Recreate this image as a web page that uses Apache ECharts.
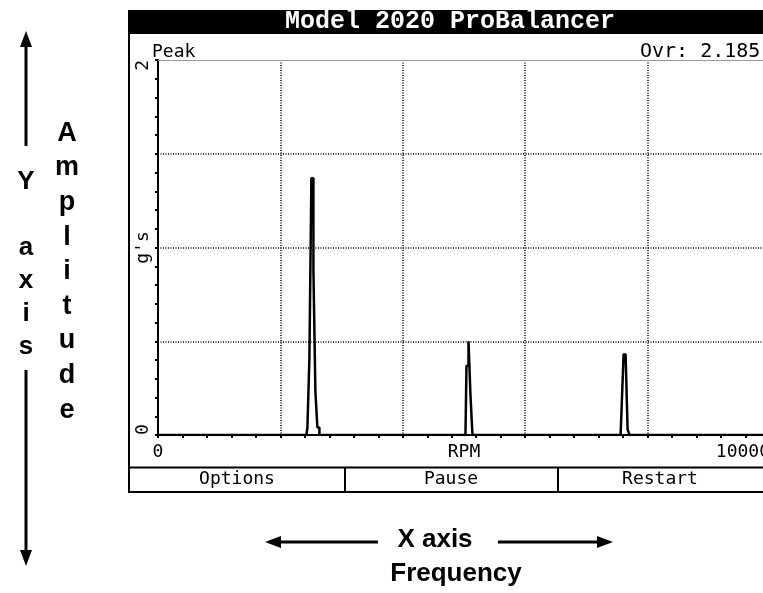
<!DOCTYPE html>
<html>
<head>
<meta charset="utf-8">
<script src="https://cdn.jsdelivr.net/npm/echarts@6/dist/echarts.min.js"></script>
<style>
  html, body { margin: 0; padding: 0; background: #fff; }
  #chart { width: 763px; height: 593px; }
</style>
</head>
<body>
<div id="chart"></div>
<script>
// spectrum samples (RPM, g's)
const rpm = [0, 2425, 2458, 2490, 2523, 2556, 2588, 2621, 2654,
  5024, 5057, 5090, 5122, 5155,
  7559, 7591, 7624, 7657, 7689, 7722, 10000];
const amplitude = [0, 0, 0.04, 0.41, 1.37, 0.88, 0.23, 0.04, 0,
  0, 0.37, 0.50, 0.21, 0,
  0, 0.14, 0.43, 0.42, 0.03, 0, 0];
const xLabels = { 0: "0", 10000: "10000" };
const yLabels = { 0: "0", 2: "2" };
const buttons = ["Options", "Pause", "Restart"];
const title = "Model 2020 ProBalancer";
const mode = "Peak";
const overall = "Ovr: 2.185";

const mono = "DejaVu Sans Mono";
const sans = "Liberation Sans";

const chart = echarts.init(document.getElementById("chart"), null, { renderer: "canvas" });

const arrowHead = (x, y, dir) => ({
  type: "polygon",
  shape: {
    points: dir === "up" ? [[x, y], [x - 6, y + 16], [x + 6, y + 16]]
      : dir === "down" ? [[x, y], [x - 6, y - 16], [x + 6, y - 16]]
      : dir === "left" ? [[x, y], [x + 16, y - 6], [x + 16, y + 6]]
      : [[x, y], [x - 16, y - 6], [x - 16, y + 6]]
  },
  style: { fill: "#000" }
});

chart.setOption({
  backgroundColor: "#fff",
  animation: false,
  grid: { left: 158, right: -7, top: 60, bottom: 158, outerBoundsMode: "none" },
  xAxis: [
    {
      type: "value",
      min: 0,
      max: 10000,
      interval: 2000,
      name: "RPM",
      nameLocation: "middle",
      nameGap: 8,
      nameMoveOverlap: false,
      nameTextStyle: { fontFamily: mono, fontSize: 18, color: "#000", verticalAlign: "top" },
      axisLine: { lineStyle: { color: "#000", width: 2 } },
      axisTick: { show: true, length: 3, lineStyle: { color: "#000", width: 2 } },
      minorTick: { show: true, splitNumber: 5, length: 3, lineStyle: { color: "#000", width: 2 } },
      splitLine: { show: true, showMinLine: false, lineStyle: { color: "#000", width: 1.5, type: [1, 1.5] } },
      axisLabel: {
        margin: 8,
        fontFamily: mono,
        fontSize: 18,
        color: "#000",
        alignMaxLabel: "right",
        formatter: v => xLabels[v] || ""
      }
    },
    {
      type: "value",
      position: "top",
      min: 0,
      max: 10000,
      axisLine: { show: true, lineStyle: { color: "#999", width: 1 } },
      axisTick: { show: false },
      axisLabel: { show: false },
      splitLine: { show: false }
    }
  ],
  yAxis: {
    type: "value",
    min: 0,
    max: 2,
    interval: 0.5,
    name: "g's",
    nameLocation: "middle",
    nameRotate: 90,
    nameGap: 6,
    nameMoveOverlap: false,
    nameTextStyle: { fontFamily: mono, fontSize: 18, color: "#000" },
    axisLine: { show: true, lineStyle: { color: "#000", width: 2 } },
    axisTick: { show: true, length: 3, lineStyle: { color: "#000", width: 2 } },
    minorTick: { show: true, splitNumber: 5, length: 3, lineStyle: { color: "#000", width: 2 } },
    splitLine: { show: true, showMinLine: false, showMaxLine: false, lineStyle: { color: "#000", width: 1.5, type: [1, 1.5] } },
    axisLabel: {
      rotate: 90,
      margin: 6,
      fontFamily: mono,
      fontSize: 18,
      color: "#000",
      alignMinLabel: "left",
      alignMaxLabel: "right",
      formatter: v => yLabels[v] || ""
    }
  },
  series: [
    {
      type: "line",
      step: "middle",
      symbol: "none",
      data: rpm.map((r, i) => [r, amplitude[i]]),
      lineStyle: { color: "#000", width: 2.5 },
      z: 5
    }
  ],
  graphic: [
    // instrument frame
    { type: "rect", shape: { x: 128, y: 10, width: 660, height: 24 }, style: { fill: "#000" } },
    { type: "text", x: 450, y: 22, style: { text: title, fill: "#fff", font: "bold 25px 'Liberation Mono'", align: "center", verticalAlign: "middle" } },
    { type: "line", shape: { x1: 129, y1: 10, x2: 129, y2: 493 }, style: { stroke: "#000", lineWidth: 2 } },
    { type: "line", shape: { x1: 128, y1: 467.5, x2: 770, y2: 467.5 }, style: { stroke: "#000", lineWidth: 2 } },
    { type: "line", shape: { x1: 128, y1: 492, x2: 770, y2: 492 }, style: { stroke: "#000", lineWidth: 2 } },
    { type: "line", shape: { x1: 345, y1: 467, x2: 345, y2: 493 }, style: { stroke: "#000", lineWidth: 2 } },
    { type: "line", shape: { x1: 558, y1: 467, x2: 558, y2: 493 }, style: { stroke: "#000", lineWidth: 2 } },
    { type: "text", x: 237, y: 479, style: { text: buttons[0], fill: "#000", font: "18px '" + mono + "'", align: "center", verticalAlign: "middle" } },
    { type: "text", x: 451, y: 479, style: { text: buttons[1], fill: "#000", font: "18px '" + mono + "'", align: "center", verticalAlign: "middle" } },
    { type: "text", x: 660, y: 479, style: { text: buttons[2], fill: "#000", font: "18px '" + mono + "'", align: "center", verticalAlign: "middle" } },
    { type: "text", x: 152, y: 52, style: { text: mode, fill: "#000", font: "18px '" + mono + "'", align: "left", verticalAlign: "middle" } },
    { type: "text", x: 640, y: 52, style: { text: overall, fill: "#000", font: "20px '" + mono + "'", align: "left", verticalAlign: "middle" } },
    // annotations outside the display
    { type: "line", shape: { x1: 26, y1: 40, x2: 26, y2: 146 }, style: { stroke: "#000", lineWidth: 3 } },
    arrowHead(26, 31, "up"),
    { type: "line", shape: { x1: 26, y1: 370, x2: 26, y2: 556 }, style: { stroke: "#000", lineWidth: 3 } },
    arrowHead(26, 566, "down"),
    { type: "text", x: 26, y: 165.5, style: { text: "Y\n\na\nx\ni\ns", fill: "#000", font: "bold 26px '" + sans + "'", lineHeight: 33, align: "center", verticalAlign: "top" } },
    { type: "text", x: 67, y: 116, style: { text: "A\nm\np\nl\ni\nt\nu\nd\ne", fill: "#000", font: "bold 27px '" + sans + "'", lineHeight: 34.6, align: "center", verticalAlign: "top" } },
    { type: "line", shape: { x1: 275, y1: 542, x2: 378, y2: 542 }, style: { stroke: "#000", lineWidth: 3 } },
    arrowHead(265, 542, "left"),
    { type: "line", shape: { x1: 498, y1: 542, x2: 603, y2: 542 }, style: { stroke: "#000", lineWidth: 3 } },
    arrowHead(613, 542, "right"),
    { type: "text", x: 435, y: 540, style: { text: "X axis", fill: "#000", font: "bold 26px '" + sans + "'", align: "center", verticalAlign: "middle" } },
    { type: "text", x: 456, y: 574, style: { text: "Frequency", fill: "#000", font: "bold 26px '" + sans + "'", align: "center", verticalAlign: "middle" } }
  ]
});
</script>
</body>
</html>
